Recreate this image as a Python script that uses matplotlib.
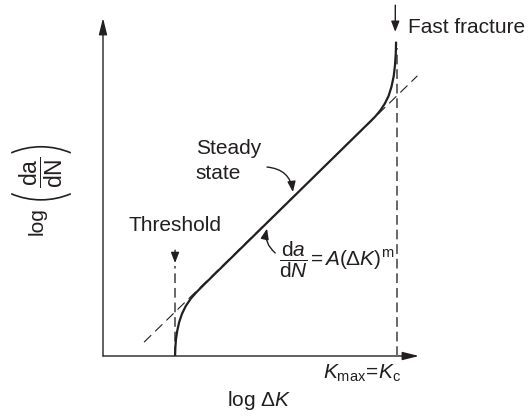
import matplotlib
matplotlib.use("Agg")
import matplotlib.pyplot as plt
from matplotlib.patches import FancyArrowPatch, Arc

plt.rcParams["font.family"] = ["Liberation Sans", "DejaVu Sans"]
plt.rcParams["mathtext.fontset"] = "custom"
plt.rcParams["mathtext.rm"] = "Liberation Sans"
plt.rcParams["mathtext.it"] = "Liberation Sans:italic"
plt.rcParams["mathtext.sf"] = "Liberation Sans"

INK = "#231f20"
GREY = "#66676a"

# Schematic crack-growth curve: log(da/dN) against log(dK), arbitrary units
growth_x = [2.28, 2.29, 2.31, 2.35, 2.41, 2.50, 2.62, 2.78, 2.96, 3.15,
            8.45, 8.62, 8.78, 8.92, 9.04, 9.13, 9.20, 9.24, 9.265, 9.275]
growth_y = [0.00, 0.25, 0.50, 0.75, 1.00, 1.25, 1.48, 1.70, 1.89, 2.07,
            6.93, 7.09, 7.27, 7.47, 7.70, 7.97, 8.28, 8.60, 8.95, 9.30]

# Paris-law asymptote (straight line on log-log axes)
paris_x = [1.30, 9.95]
paris_y = [0.41, 8.29]

# Threshold and critical stress-intensity positions
threshold_x = 2.28
critical_x = 9.30

fig = plt.figure(figsize=(5.28, 4.16), dpi=100)
ax = fig.add_axes([103 / 528, 60 / 416, 316 / 528, 338 / 416])
ax.set_xlim(0, 10)
ax.set_ylim(0, 10)
ax.axis("off")

# data units per pixel in each direction
UX = 10 / 316
UY = 10 / 338

def arrow(p0, p1, scale=10, hl=1.0, hw=0.25, rad=0.0, lw=1.0, color=INK):
    a = FancyArrowPatch(p0, p1,
                        arrowstyle=f"-|>,head_length={hl},head_width={hw}",
                        connectionstyle=f"arc3,rad={rad}",
                        mutation_scale=scale, lw=lw, color=color,
                        shrinkA=0, shrinkB=0, clip_on=False,
                        transform=ax.transData)
    ax.add_patch(a)

# Axes with arrowheads
arrow((0, 0), (0, 10), lw=1.0)
arrow((0, 0), (10, 0), lw=1.0)

# Asymptote and limits
ax.plot(paris_x, paris_y, color=INK, lw=0.8, ls=(0, (9, 5)), clip_on=False)
ax.plot([threshold_x, threshold_x], [0, 2.65], color=GREY, lw=1.4,
        ls=(0, (5, 2.5)), clip_on=False)
ax.plot([critical_x, critical_x], [0, 9.1], color=GREY, lw=1.4,
        ls=(0, (5, 2.5)), clip_on=False)

# Growth curve
ax.plot(growth_x, growth_y, color=INK, lw=1.6, solid_capstyle="butt",
        solid_joinstyle="round", clip_on=False)

# Labels with pointers
ax.text(threshold_x, 3.70, "Threshold", ha="center", va="baseline",
        fontsize=15, color=INK)
arrow((threshold_x, 3.13), (threshold_x, 2.75), scale=7, hl=0.9, hw=0.35)

ax.text(9.65, 9.55, "Fast fracture", ha="left", va="baseline",
        fontsize=15, color=INK, clip_on=False)
arrow((9.25, 10.38), (9.25, 9.59), scale=7, hl=0.9, hw=0.35)

ax.text(2.94, 5.98, "Steady", ha="left", va="baseline", fontsize=15, color=INK)
ax.text(2.94, 5.24, "state", ha="left", va="baseline", fontsize=15, color=INK)
arrow((5.19, 5.59), (6.01, 4.85), scale=7, hl=0.9, hw=0.35, rad=-0.4)

ax.text(5.58, 2.84,
        r"$\dfrac{\mathrm{d}a}{\mathrm{d}N}\!\hspace{0.1}=\hspace{0.1}\!"
        r"A(\Delta K)^{\mathrm{m}}$",
        ha="left", va="center", fontsize=15, color=INK)
arrow((5.45, 3.05), (5.19, 3.77), scale=7, hl=0.9, hw=0.35, rad=-0.3)

# Axis titles
ax.text(8.20, -0.68, r"$K_{\mathrm{max}}\!=\!K_{\mathrm{c}}$", ha="center",
        va="baseline", fontsize=15, color=INK, clip_on=False)
ax.text(4.94, -1.48, r"log $\Delta K$", ha="center", va="baseline",
        fontsize=15, color=INK, clip_on=False)

# Vertical title: log( da/dN ) with wide bracket arcs
lab_x = -62 * UX
ax.text(-66 * UX, 4.00, "log", ha="center", va="center", rotation=90,
        fontsize=15, color=INK, clip_on=False)
ax.text(lab_x, 5.42, r"$\dfrac{\mathrm{da}}{\mathrm{dN}}$", ha="center",
        va="center", rotation=90, fontsize=16.5, color=INK, clip_on=False)
R = 76.0
half = 24.5
ax.add_patch(Arc((lab_x, 6.19 - R * UY), 2 * R * UX, 2 * R * UY,
                 theta1=90 - half, theta2=90 + half, lw=1.2, color=INK,
                 clip_on=False))
ax.add_patch(Arc((lab_x, 4.62 + R * UY), 2 * R * UX, 2 * R * UY,
                 theta1=270 - half, theta2=270 + half, lw=1.2, color=INK,
                 clip_on=False))

fig.savefig("out.png", dpi=100)
